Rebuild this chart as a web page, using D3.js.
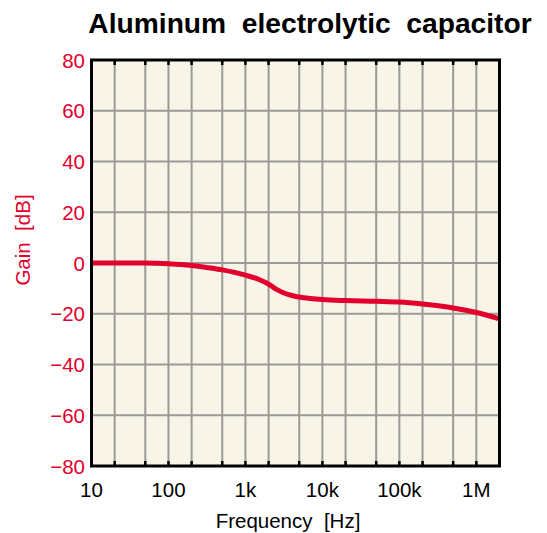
<!DOCTYPE html>
<html><head><meta charset="utf-8">
<script src="https://cdn.jsdelivr.net/npm/d3@7"></script>
<style>
body{margin:0;background:#fff;}
text{font-family:"Liberation Sans",Arial,Helvetica,sans-serif;white-space:pre;}
</style></head>
<body><svg id="c" width="547" height="533"></svg>
<script>
const freqs = [10,20,50,70,100,200,300,500,700,1000,1500,2000,2500,3000,4000,5000,7000,10000,20000,50000,100000,200000,500000,1000000,2000000];
const gains = [0,0,0,-0.1,-0.3,-1.0,-1.7,-2.7,-3.6,-4.8,-6.5,-8.3,-10.3,-11.5,-12.8,-13.4,-14.0,-14.4,-14.8,-15.1,-15.4,-16.2,-17.7,-19.5,-22.0];
const xTicks = [10,100,1000,10000,100000,1000000];
const xTickLabels = ["10","100","1k","10k","100k","1M"];
const xGrid = [20,50,100,200,500,1000,2000,5000,10000,20000,50000,100000,200000,500000,1000000];
const yTicks = [-80,-60,-40,-20,0,20,40,60,80];
const title = "Aluminum  electrolytic  capacitor";
const xLabel = "Frequency  [Hz]";
const yLabel = "Gain  [dB]";

const svg = d3.select("#c");
const L=91.5, R=499.5, T=60, B=466;
const x = d3.scaleLog().domain([10,2000000]).range([L,R]);
const y = d3.scaleLinear().domain([-80,80]).range([B,T]);
const red = "#e2002c";

svg.append("rect").attr("x",L).attr("y",T).attr("width",R-L).attr("height",B-T).attr("fill","#f8f5e8");

const g = svg.append("g");
g.selectAll(".vg").data(xGrid).join("line")
  .attr("x1",d=>x(d)).attr("x2",d=>x(d)).attr("y1",T).attr("y2",B)
  .attr("stroke","#9a9a96").attr("stroke-width",2);
g.selectAll(".hg").data(yTicks.slice(1,-1)).join("line")
  .attr("y1",d=>y(d)).attr("y2",d=>y(d)).attr("x1",L).attr("x2",R)
  .attr("stroke","#9a9a96").attr("stroke-width",2);
g.selectAll(".tt").data(xGrid).join("line")
  .attr("x1",d=>x(d)).attr("x2",d=>x(d)).attr("y1",T).attr("y2",T+5)
  .attr("stroke","#000").attr("stroke-width",2.5);
g.selectAll(".bt").data(xGrid).join("line")
  .attr("x1",d=>x(d)).attr("x2",d=>x(d)).attr("y1",B-5).attr("y2",B)
  .attr("stroke","#000").attr("stroke-width",2.5);

const line = d3.line().x((d,i)=>x(freqs[i])).y(d=>y(d)).curve(d3.curveMonotoneX);
svg.append("path").datum(gains).attr("d",line).attr("fill","none")
  .attr("stroke",red).attr("stroke-width",5).attr("stroke-linecap","butt");

svg.append("rect").attr("x",L).attr("y",T).attr("width",R-L).attr("height",B-T)
  .attr("fill","none").attr("stroke","#000").attr("stroke-width",3);

svg.selectAll(".yl").data(yTicks).join("text")
  .attr("x",85).attr("y",d=>y(d)+7.5).attr("text-anchor","end")
  .attr("font-size",20.5).attr("fill",red)
  .text(d=> d<0 ? "\u2212"+Math.abs(d) : String(d));
svg.selectAll(".xl").data(xTicks).join("text")
  .attr("x",d=>x(d)).attr("y",497).attr("text-anchor","middle")
  .attr("font-size",20.5).attr("fill","#000")
  .text((d,i)=>xTickLabels[i]);

svg.append("text").attr("x",288).attr("y",528).attr("text-anchor","middle")
  .attr("font-size",20.5).text(xLabel);
svg.append("text").attr("transform","translate(30,240) rotate(-90)").attr("text-anchor","middle")
  .attr("font-size",20.5).attr("fill",red).text(yLabel);
svg.append("text").attr("x",310).attr("y",33).attr("text-anchor","middle")
  .attr("font-size",28.2).attr("font-weight","bold").text(title);
</script></body></html>
